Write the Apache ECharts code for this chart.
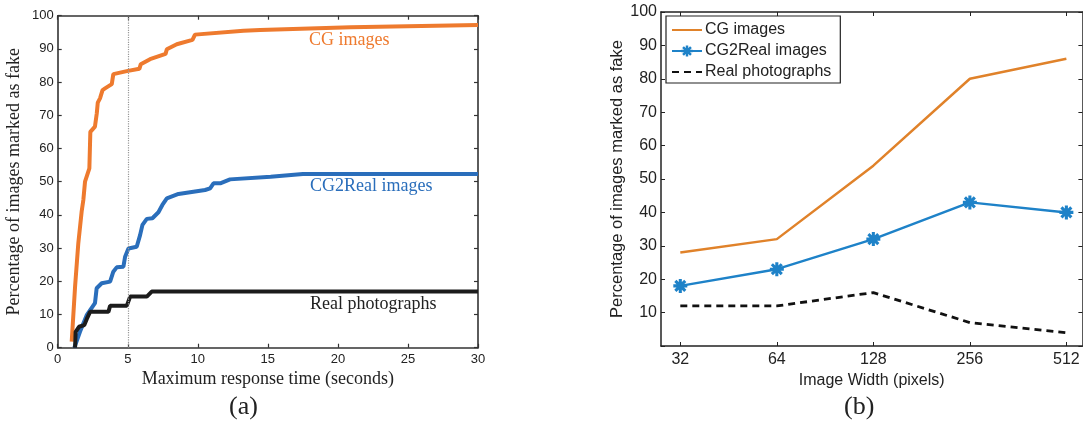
<!DOCTYPE html>
<html>
<head>
<meta charset="utf-8">
<script src="https://cdn.jsdelivr.net/npm/echarts@6/dist/echarts.min.js"></script>
<style>html,body{margin:0;padding:0;background:#fff}#c{width:1083px;height:428px}</style>
</head>
<body>
<div id="c"></div>
<script>
// ---- Panel (a): cumulative fraction marked fake vs. max response time ----
const timeTicks = [0, 5, 10, 15, 20, 25, 30];
const cgCurve = [[1.0,1.8],[1.24,18.4],[1.47,31.4],[1.71,41],[1.83,44.5],[1.95,50],[2.26,54],[2.33,65],[2.66,66.6],[2.79,70.6],[2.86,73.8],[3.02,75.1],[3.2,77.6],[3.38,78.1],[3.86,79.4],[3.97,82.4],[4.93,83.3],[5.83,84],[5.93,85.4],[6.59,86.9],[7.7,88.5],[7.79,89.9],[8.5,91.4],[9.62,92.7],[9.8,94.3],[13.26,95.5],[14.45,95.7],[20.9,96.5],[30,97.2]];
const cg2RealCurve = [[1.19,0],[1.59,4.8],[2.07,9.8],[2.66,13.4],[2.78,17.9],[3.14,19.4],[3.74,19.9],[3.97,22.9],[4.21,24.2],[4.69,24.4],[4.81,27.4],[5.05,29.9],[5.64,30.4],[5.88,33.9],[6.05,37],[6.36,38.8],[6.76,39.0],[7.19,40.8],[7.47,43],[7.79,45],[8.62,46.3],[10.52,47.5],[10.88,48],[11.12,49.5],[11.6,49.5],[12.3,50.7],[15.2,51.5],[17.5,52.3],[30,52.3]];
const realCurve = [[1.24,0],[1.28,4.8],[1.52,6.3],[1.9,6.8],[2.07,8.6],[2.31,10.8],[3.62,10.8],[3.74,12.6],[4.93,12.6],[5.17,15.4],[6.36,15.4],[6.71,16.9],[30,16.9]];
const dottedAt = 5;

// ---- Panel (b): fraction marked fake vs. image width ----
const widths = [32, 64, 128, 256, 512];
const cgByWidth = [28, 32, 54, 80, 86];
const cg2RealByWidth = [18, 23, 32, 43, 40];
const realByWidth = [12, 12, 16, 7, 4];
const widthTickExp = [5, 6, 7, 8, 9];

const toXY = arr => widths.map((w, i) => [Math.log2(w), arr[i]]);

const serif = 'Liberation Serif';
const sans = 'Liberation Sans';
const axisCol = '#333';
const asterisk = 'path://M-10,-2.2L10,-2.2L10,2.2L-10,2.2Z M-2.2,-10L2.2,-10L2.2,10L-2.2,10Z M-5.52,-8.63L8.63,5.52L5.52,8.63L-8.63,-5.52Z M-8.63,5.52L5.52,-8.63L8.63,-5.52L-5.52,8.63Z';

const chart = echarts.init(document.getElementById('c'));
const inTick = {show: true, inside: true, length: 4, lineStyle: {color: axisCol, width: 1.2}};
const option = {
  animation: false,
  grid: [
    {left: 57.7, right: 605, top: 15.7, bottom: 80.3},
    {left: 661, right: 0.6, top: 12, bottom: 82}
  ],
  xAxis: [
    {gridIndex: 0, type: 'value', min: 0, max: 30, interval: 5, position: 'bottom',
     axisLine: {onZero: false, lineStyle: {color: axisCol, width: 1.6}}, axisTick: inTick, splitLine: {show: false},
     axisLabel: {color: '#222', fontFamily: sans, fontSize: 13, margin: 5},
     name: 'Maximum response time (seconds)', nameLocation: 'middle', nameGap: 21,
     nameTextStyle: {fontFamily: serif, fontSize: 18, color: '#222'}},
    {gridIndex: 0, type: 'value', min: 0, max: 30, interval: 5, position: 'top',
     axisLine: {onZero: false, lineStyle: {color: axisCol, width: 1.6}}, axisTick: inTick, splitLine: {show: false}, axisLabel: {show: false}},
    {gridIndex: 1, type: 'value', min: 4.8, max: 9.166, position: 'bottom',
     axisLine: {onZero: false, lineStyle: {color: '#222', width: 1.5}},
     axisTick: Object.assign({}, inTick, {customValues: widthTickExp, lineStyle: {color: '#222'}}), splitLine: {show: false},
     axisLabel: {customValues: widthTickExp, formatter: v => String(Math.round(Math.pow(2, v))), color: '#222', fontFamily: sans, fontSize: 16, margin: 6},
     name: 'Image Width (pixels)', nameLocation: 'middle', nameGap: 22,
     nameTextStyle: {fontFamily: sans, fontSize: 16, color: '#222'}},
    {gridIndex: 1, type: 'value', min: 4.8, max: 9.166, position: 'top',
     axisLine: {onZero: false, lineStyle: {color: '#222', width: 1.5}},
     axisTick: Object.assign({}, inTick, {customValues: widthTickExp, lineStyle: {color: '#222'}}), splitLine: {show: false}, axisLabel: {show: false}}
  ],
  yAxis: [
    {gridIndex: 0, type: 'value', min: 0, max: 100, interval: 10, position: 'left',
     axisLine: {show: true, onZero: false, lineStyle: {color: axisCol, width: 1.6}}, axisTick: inTick, splitLine: {show: false},
     axisLabel: {color: '#222', fontFamily: sans, fontSize: 13, margin: 4},
     name: 'Percentage of images marked as fake', nameLocation: 'middle', nameGap: 34,
     nameTextStyle: {fontFamily: serif, fontSize: 18, color: '#222'}},
    {gridIndex: 0, type: 'value', min: 0, max: 100, interval: 10, position: 'right',
     axisLine: {show: true, onZero: false, lineStyle: {color: axisCol, width: 1.6}}, axisTick: inTick, splitLine: {show: false}, axisLabel: {show: false}},
    {gridIndex: 1, type: 'value', min: 0, max: 100, interval: 10, position: 'left',
     axisLine: {show: true, onZero: false, lineStyle: {color: '#222', width: 1.5}}, axisTick: Object.assign({}, inTick, {lineStyle: {color: '#222'}}), splitLine: {show: false},
     axisLabel: {color: '#222', fontFamily: sans, fontSize: 16, margin: 4, formatter: v => v === 0 ? '' : String(v)},
     name: 'Percentage of images marked as fake', nameLocation: 'middle', nameGap: 33,
     nameTextStyle: {fontFamily: sans, fontSize: 16.5, color: '#222'}},
    {gridIndex: 1, type: 'value', min: 0, max: 100, interval: 10, position: 'right',
     axisLine: {show: true, onZero: false, lineStyle: {color: '#222', width: 1.5}}, axisTick: Object.assign({}, inTick, {lineStyle: {color: '#222'}}), splitLine: {show: false}, axisLabel: {show: false}}
  ],
  legend: {
    data: [
      {name: 'CG images', itemStyle: {opacity: 0}},
      {name: 'CG2Real images'},
      {name: 'Real photographs', itemStyle: {opacity: 0}}
    ],
    orient: 'vertical', left: 666, top: 16,
    itemWidth: 30, itemHeight: 14, itemGap: 5,
    padding: [6, 9, 3, 5],
    borderColor: '#222', borderWidth: 1.2, borderRadius: 0,
    backgroundColor: '#fff',
    textStyle: {fontFamily: sans, fontSize: 16, color: '#222', padding: [0, 0, 0, -2]}
  },
  series: [
    {name: 'a-cg', type: 'line', xAxisIndex: 0, yAxisIndex: 0, data: cgCurve, symbol: 'none',
     lineStyle: {color: '#EE7A2E', width: 4}, z: 3,
     markLine: {silent: true, symbol: 'none', label: {show: false},
       lineStyle: {color: '#999', type: 'dotted', width: 1.2},
       data: [[{coord: [dottedAt, 0]}, {coord: [dottedAt, 100]}]]}},
    {name: 'a-cg2real', type: 'line', xAxisIndex: 0, yAxisIndex: 0, data: cg2RealCurve, symbol: 'none',
     lineStyle: {color: '#2A6EBB', width: 4}, z: 3},
    {name: 'a-real', type: 'line', xAxisIndex: 0, yAxisIndex: 0, data: realCurve, symbol: 'none',
     lineStyle: {color: '#1c1c1c', width: 4}, z: 4},
    {name: 'CG images', type: 'line', xAxisIndex: 2, yAxisIndex: 2, data: toXY(cgByWidth), symbol: 'none',
     color: '#E0822A', lineStyle: {color: '#E0822A', width: 2.5}},
    {name: 'CG2Real images', type: 'line', xAxisIndex: 2, yAxisIndex: 2, data: toXY(cg2RealByWidth),
     symbol: asterisk, symbolSize: 14, showSymbol: true,
     color: '#1E82C8', itemStyle: {color: '#1E82C8'}, lineStyle: {color: '#1E82C8', width: 2.5}},
    {name: 'Real photographs', type: 'line', xAxisIndex: 2, yAxisIndex: 2, data: toXY(realByWidth), symbol: 'none',
     color: '#111', lineStyle: {color: '#111', width: 2.8, type: [7, 5]}}
  ],
  graphic: [
    {type: 'text', left: 309, top: 31, style: {text: 'CG images', font: '18px "Liberation Serif"', fill: '#EE7A2E'}},
    {type: 'text', left: 310, top: 177, style: {text: 'CG2Real images', font: '18px "Liberation Serif"', fill: '#2A6EBB'}},
    {type: 'text', left: 310, top: 295, style: {text: 'Real photographs', font: '18px "Liberation Serif"', fill: '#222'}},
    {type: 'text', left: 229, top: 394, style: {text: '(a)', font: '26px "Liberation Serif"', fill: '#222'}},
    {type: 'text', left: 844, top: 394, style: {text: '(b)', font: '26px "Liberation Serif"', fill: '#222'}}
  ]
};
chart.setOption(option);
</script>
</body>
</html>
